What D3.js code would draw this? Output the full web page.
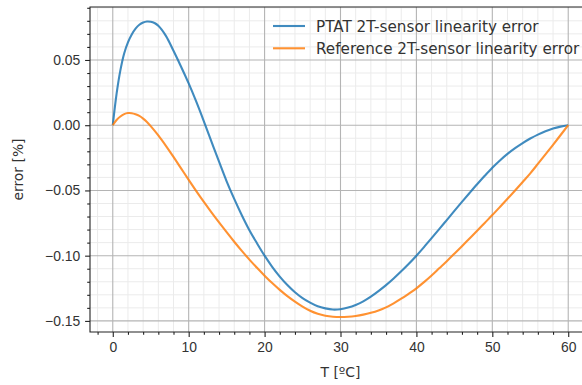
<!DOCTYPE html>
<html lang="en">
<head>
    <meta charset="UTF-8">
    <title>2T-sensor linearity error</title>
    <script src="https://d3js.org/d3.v7.min.js"></script>
    <style>
        body { margin: 0; background: #fff; }
        svg { display: block; font-family: "DejaVu Sans", sans-serif; }
        .tick text { fill: #333; font-size: 13.9px; }
        .domain { display: none; }
        .label { fill: #333; font-size: 13.9px; }
        .legend text { fill: #333; font-size: 15.2px; }
    </style>
</head>
<body>
    <div id="chart"></div>

    <script>
        // Temperatures (ºC) and errors (%)
        const ptatT = [0, 0.5, 1, 1.5, 2, 2.5, 3, 3.5, 4, 4.5, 5, 5.5, 6, 7, 8, 9, 10,
                       11, 12, 13, 14, 15, 16, 17, 18, 19, 20, 21, 22, 23, 24, 25, 26, 27, 28, 29, 30,
                       31, 32, 33, 34, 35, 36, 37, 38, 39, 40, 41, 42, 43, 44, 45, 46, 47, 48, 49, 50,
                       51, 52, 53, 54, 55, 56, 57, 58, 59, 60];
        const ptatErr = [0, 0.024, 0.042, 0.055, 0.0635, 0.0695, 0.0740, 0.0770, 0.0787, 0.0795, 0.0793, 0.0783, 0.0762, 0.0685, 0.0570, 0.0448, 0.0320,
                         0.0180, 0.0030, -0.0125, -0.0280, -0.0430, -0.0565, -0.0690, -0.0805, -0.0905, -0.1000,
                         -0.1085, -0.1160, -0.1225, -0.1280, -0.1325, -0.1360, -0.1388, -0.1404, -0.1413, -0.1410,
                         -0.1398, -0.1378, -0.1350, -0.1314, -0.1272, -0.1226, -0.1175, -0.1120, -0.1062, -0.1000,
                         -0.0934, -0.0866, -0.0797, -0.0727, -0.0657, -0.0588, -0.0520, -0.0453, -0.0388, -0.0326,
                         -0.0270, -0.0220, -0.0176, -0.0137, -0.0102, -0.0072, -0.0047, -0.0026, -0.0011, 0];

        const refT = [0, 0.5, 1, 1.5, 2, 2.5, 3, 3.5, 4, 4.5, 5, 6, 7, 8, 9, 10,
                      11, 12, 13, 14, 15, 16, 17, 18, 19, 20, 21, 22, 23, 24, 25, 26, 27, 28, 29, 30,
                      31, 32, 33, 34, 35, 36, 37, 38, 39, 40, 41, 42, 43, 44, 45, 46, 47, 48, 49, 50,
                      51, 52, 53, 54, 55, 56, 57, 58, 59, 60];
        const refErr = [0, 0.0040, 0.0067, 0.0085, 0.0093, 0.0092, 0.0084, 0.0071, 0.0051, 0.0025, -0.0007, -0.0078, -0.0158, -0.0243, -0.0331, -0.0419,
                        -0.0505, -0.0588, -0.0668, -0.0745, -0.0820, -0.0893, -0.0963, -0.1030, -0.1093, -0.1153,
                        -0.1210, -0.1262, -0.1310, -0.1352, -0.1390, -0.1422, -0.1445, -0.1460, -0.1468, -0.1470,
                        -0.1468, -0.1462, -0.1452, -0.1438, -0.1420, -0.1396, -0.1365, -0.1330, -0.1291, -0.1250,
                        -0.1203, -0.1152, -0.1097, -0.1042, -0.0985, -0.0927, -0.0868, -0.0809, -0.0749, -0.0689,
                        -0.0627, -0.0564, -0.0500, -0.0435, -0.0369, -0.0297, -0.0224, -0.0150, -0.0075, 0];

        const seriesNames = ["PTAT 2T-sensor linearity error", "Reference 2T-sensor linearity error"];
        const seriesColors = ["#1f77b4", "#ff7f0e"];

        const xTicks = [0, 10, 20, 30, 40, 50, 60];
        const yTicks = [-0.15, -0.10, -0.05, 0.00, 0.05];

        const W = 582, H = 385;
        // axes box (right edge sits outside the picture, as in the reference)
        const box = { left: 90, right: 591, top: 7, bottom: 332 };

        const svg = d3.select("#chart")
            .append("svg")
            .attr("width", W)
            .attr("height", H);

        const x = d3.scaleLinear().domain([-3, 63]).range([box.left, box.right]);
        const y = d3.scaleLinear().domain([-0.1585, 0.0906]).range([box.bottom, box.top]);

        // minor tick positions
        const xMinor = d3.range(-2, 63, 2).filter(d => d % 10 !== 0);
        const yMinor = d3.range(-15, 10, 1).map(d => d / 100).filter(d => Math.round(d * 100) % 5 !== 0);

        // minor grid
        const grid = svg.append("g");
        grid.selectAll(".vminor").data(xMinor).enter().append("line")
            .attr("x1", d => x(d)).attr("x2", d => x(d))
            .attr("y1", box.top).attr("y2", box.bottom)
            .attr("stroke", "#ebebeb").attr("stroke-width", 1);
        grid.selectAll(".hminor").data(yMinor).enter().append("line")
            .attr("x1", box.left).attr("x2", box.right)
            .attr("y1", d => y(d)).attr("y2", d => y(d))
            .attr("stroke", "#ebebeb").attr("stroke-width", 1);

        // major grid
        grid.selectAll(".vmajor").data(xTicks).enter().append("line")
            .attr("x1", d => x(d)).attr("x2", d => x(d))
            .attr("y1", box.top).attr("y2", box.bottom)
            .attr("stroke", "#b4b4b4").attr("stroke-width", 1.1);
        grid.selectAll(".hmajor").data(yTicks).enter().append("line")
            .attr("x1", box.left).attr("x2", box.right)
            .attr("y1", d => y(d)).attr("y2", d => y(d))
            .attr("stroke", "#b4b4b4").attr("stroke-width", 1.1);

        // axes
        svg.append("g")
            .attr("transform", `translate(0,${box.bottom})`)
            .call(d3.axisBottom(x).tickValues(xTicks).tickFormat(d3.format("d")).tickSize(4.9).tickPadding(4.9));
        svg.append("g")
            .attr("transform", `translate(0,${box.bottom})`)
            .call(d3.axisBottom(x).tickValues(xMinor).tickFormat("").tickSize(2.8));

        svg.append("g")
            .attr("transform", `translate(${box.left},0)`)
            .call(d3.axisLeft(y).tickValues(yTicks).tickFormat(d3.format(".2f")).tickSize(4.9).tickPadding(4.9));
        svg.append("g")
            .attr("transform", `translate(${box.left},0)`)
            .call(d3.axisLeft(y).tickValues(yMinor).tickFormat("").tickSize(2.8));

        svg.selectAll(".tick line").attr("stroke", "#222").attr("stroke-width", 1.1);

        // spines (left, bottom, top)
        svg.append("path")
            .attr("d", `M${box.right},${box.top}H${box.left}V${box.bottom}H${box.right}`)
            .attr("fill", "none")
            .attr("stroke", "#222")
            .attr("stroke-width", 1.1);

        // curves
        const line = d3.line()
            .x(d => x(d[0]))
            .y(d => y(d[1]))
            .curve(d3.curveCatmullRom);

        const series = [
            d3.zip(ptatT, ptatErr),
            d3.zip(refT, refErr)
        ];

        series.forEach((pts, i) => {
            svg.append("path")
                .datum(pts)
                .attr("fill", "none")
                .attr("stroke", seriesColors[i])
                .attr("stroke-opacity", 0.85)
                .attr("stroke-width", 2.1)
                .attr("stroke-linejoin", "round")
                .attr("d", line);
        });

        // legend
        const legend = svg.append("g")
            .attr("class", "legend")
            .attr("transform", "translate(273,26)");
        seriesNames.forEach((name, i) => {
            const row = legend.append("g").attr("transform", `translate(0,${i * 22.3})`);
            row.append("line")
                .attr("x1", 0).attr("x2", 32)
                .attr("y1", 0).attr("y2", 0)
                .attr("stroke", seriesColors[i])
                .attr("stroke-opacity", 0.85)
                .attr("stroke-width", 2.1);
            row.append("text")
                .attr("x", 43)
                .attr("y", 5.5)
                .text(name);
        });

        // axis labels
        svg.append("text")
            .attr("class", "label")
            .attr("x", (box.left + box.right) / 2)
            .attr("y", 377)
            .attr("text-anchor", "middle")
            .text("T [ºC]");

        svg.append("text")
            .attr("class", "label")
            .attr("transform", `translate(23,${(box.top + box.bottom) / 2}) rotate(-90)`)
            .attr("text-anchor", "middle")
            .text("error [%]");
    </script>
</body>
</html>
